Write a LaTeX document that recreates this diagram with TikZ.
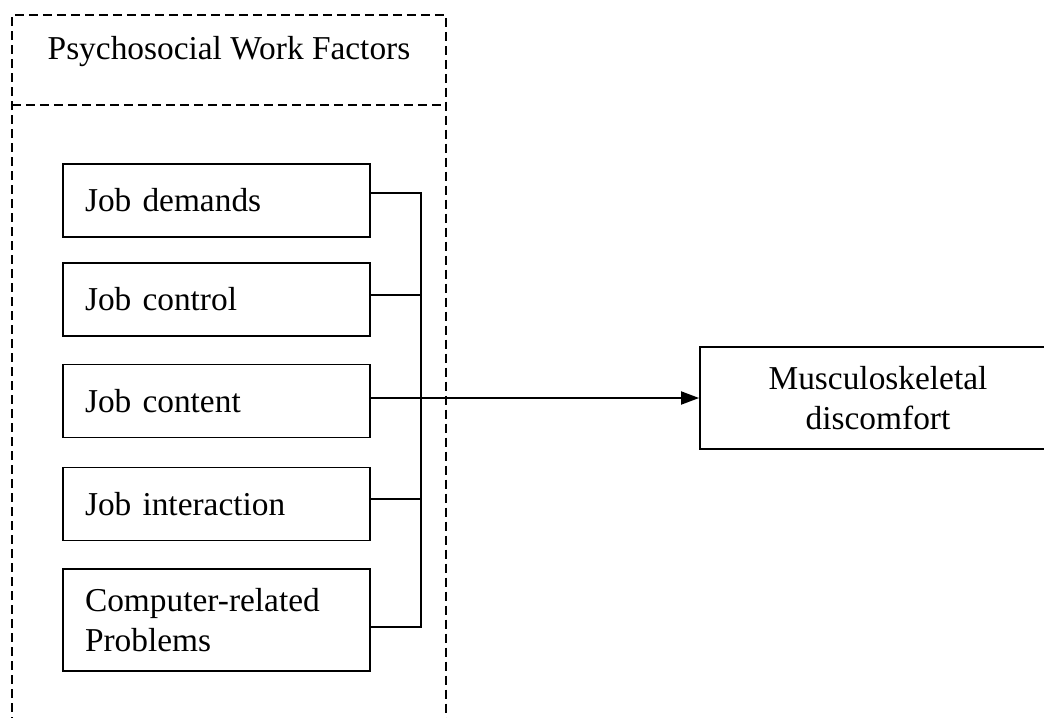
\documentclass[tikz,border=0pt]{standalone}
\usepackage{fontspec}
\setmainfont{Liberation Serif}
\usetikzlibrary{arrows.meta}
\tikzset{
	factor/.style={draw, line width=1.1pt, minimum width=6.14cm,
		minimum height=1.46cm, text width=5.26cm, inner xsep=0.44cm,
		inner ysep=0pt, align=left},
	outcome/.style={draw, line width=1.1pt, minimum width=7.12cm,
		minimum height=2.04cm, align=center},
	frame/.style={dash pattern=on 0.18cm off 0.1cm, line width=0.9pt},
	link/.style={line width=1.1pt}
}

\begin{document}
\begin{tikzpicture}[x=0.02cm, y=-0.02cm,
		font=\fontsize{19pt}{23pt}\selectfont]
	\clip (0,0) rectangle (1044,717);
	% dashed frame of the factor group
	\draw [frame] (12,740) |- (446,15) -- (446,740);
	\draw [frame] (12,105) -- (446,105);
	\node (title) at (229,52) {Psychosocial Work Factors};
	\node [factor] (demands) at (216.5,200.5) {Job demands};
	\node [factor] (control) at (216.5,299.5) {Job control};
	\node [factor] (content) at (216.5,401) {Job content};
	\node [factor] (interaction) at (216.5,504) {Job interaction};
	\node [factor, minimum height=2.04cm] (computer) at (216.5,620)
		{Computer-related\\Problems};
	\node [outcome] (discomfort) at (878,398)
		{Musculoskeletal\\discomfort};
	% bus on the right of the factors
	\draw [link] ([yshift=0.15cm]demands.east) -- ++(50,0)
		|- ([yshift=-0.14cm]computer.east);
	\draw [link] ([yshift=0.09cm]control.east) -- ++(50,0);
	\draw [link] ([yshift=0.1cm]interaction.east) -- ++(50,0);
	\draw [link, -{Triangle[length=0.36cm, width=0.26cm]}]
		([yshift=0.06cm]content.east) -- (discomfort.west);
\end{tikzpicture}
\end{document}
